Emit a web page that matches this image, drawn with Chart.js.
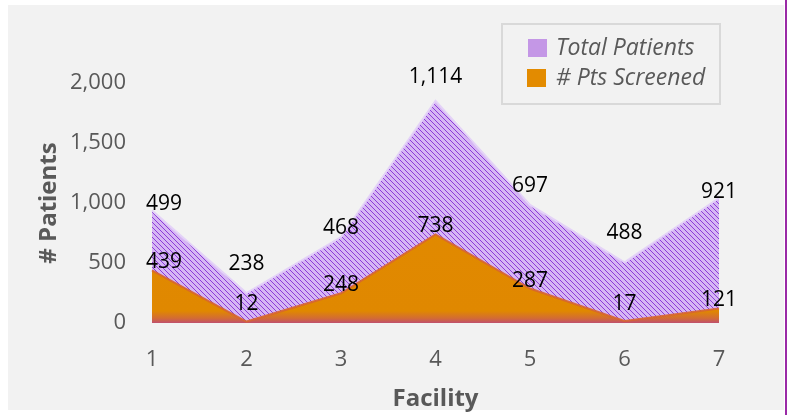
<!DOCTYPE html>
<html><head><meta charset="utf-8">
<script src="https://cdn.jsdelivr.net/npm/chart.js@4.4.0/dist/chart.umd.min.js"></script>
<style>html,body{margin:0;padding:0;background:#fff;overflow:hidden}canvas{display:block}</style>
</head><body>
<canvas id="c" width="787" height="415"></canvas>
<script>
const facilities = ['1', '2', '3', '4', '5', '6', '7'];
const ptsScreened = [439, 12, 248, 738, 287, 17, 121];
const totalPatients = [499, 238, 468, 1114, 697, 488, 921];
const yTickStep = 500;
const yMax = 2000;
const seriesNames = ['Total Patients', '# Pts Screened'];
const totalLabelLift = [6, 29, 9, 24, 19, 29, 6];

const FONT = '"Open Sans", "Noto Sans", sans-serif';
const GREY = '#595959';

const canvas = document.getElementById('c');
const ctx = canvas.getContext('2d');

function makeHatch() {
  const p = document.createElement('canvas');
  p.width = 5; p.height = 5;
  const g = p.getContext('2d');
  g.fillStyle = '#d6b6f4';
  g.fillRect(0, 0, 5, 5);
  g.fillStyle = '#8c3cd8';
  for (let i = 0; i < 5; i++) g.fillRect(i, i, 1, 1);
  return ctx.createPattern(p, 'repeat');
}
const hatch = makeHatch();

function orangeFill(context) {
  const chart = context.chart;
  const a = chart.chartArea;
  if (!a) return '#e28b00';
  const g = chart.ctx.createLinearGradient(0, a.top, 0, a.bottom);
  g.addColorStop(0, '#e38c00');
  g.addColorStop(0.95, '#e08800');
  g.addColorStop(0.98, '#d36c34');
  g.addColorStop(1, '#c0506e');
  return g;
}

const bgPlugin = {
  id: 'bg',
  beforeDraw(chart) {
    const c = chart.ctx;
    c.save();
    c.fillStyle = '#ffffff';
    c.fillRect(0, 0, chart.width, chart.height);
    c.fillStyle = '#f2f2f2';
    c.fillRect(8, 5, 776, 405);
    c.fillStyle = '#9a2aa6';
    c.fillRect(785, 0, 2, chart.height);
    c.restore();
  }
};

const labelPlugin = {
  id: 'vals',
  afterDatasetsDraw(chart) {
    const c = chart.ctx;
    const area = chart.chartArea;
    c.save();
    c.font = '21px ' + FONT;
    c.fillStyle = '#000000';
    c.textAlign = 'center';
    c.textBaseline = 'middle';
    chart.data.datasets.forEach((ds, di) => {
      const meta = chart.getDatasetMeta(di);
      meta.data.forEach((pt, i) => {
        const txt = ds.data[i].toLocaleString('en-US');
        const w = c.measureText(txt).width;
        const x = Math.max(pt.x, area.left - 6 + w / 2);
        let y;
        if (ds.label === seriesNames[1]) y = Math.min(pt.y - 8, area.bottom - 19);
        else y = pt.y - totalLabelLift[i];
        c.fillText(txt, x, y);
      });
    });
    c.restore();
  }
};

const legendPlugin = {
  id: 'customLegend',
  afterDraw(chart) {
    const c = chart.ctx;
    c.save();
    c.strokeStyle = '#d9d9d9';
    c.lineWidth = 2;
    c.strokeRect(502, 24, 218, 80);
    c.fillStyle = '#c497e6';
    c.fillRect(528, 39, 19, 18);
    c.fillStyle = '#e38b00';
    c.fillRect(527, 69, 19, 18);
    c.font = 'italic 23px ' + FONT;
    c.fillStyle = GREY;
    c.textAlign = 'left';
    c.textBaseline = 'middle';
    c.fillText(seriesNames[0], 556, 48);
    c.fillText(seriesNames[1], 556, 78);
    c.restore();
  }
};

new Chart(canvas, {
  type: 'line',
  data: {
    labels: facilities,
    datasets: [
      {
        label: seriesNames[1],
        data: ptsScreened,
        fill: 'origin',
        backgroundColor: orangeFill,
        borderColor: 'rgba(214,100,50,0.9)',
        borderWidth: 2,
        pointRadius: 0,
        tension: 0
      },
      {
        label: seriesNames[0],
        data: totalPatients,
        fill: '-1',
        backgroundColor: hatch,
        borderColor: '#e4d2f8',
        borderWidth: 2,
        pointRadius: 0,
        tension: 0
      }
    ]
  },
  options: {
    responsive: false,
    animation: false,
    layout: { padding: { top: 83, right: 68, left: 0, bottom: 0 } },
    plugins: { legend: { display: false }, tooltip: { enabled: false } },
    scales: {
      x: {
        offset: false,
        grid: { display: false, drawTicks: false },
        border: { display: false },
        ticks: { color: GREY, font: { family: FONT, size: 22 }, padding: 24, maxRotation: 0 },
        title: { display: true, text: 'Facility', color: GREY, font: { family: FONT, size: 24, weight: 'bold' }, padding: { top: 0, bottom: 1 } },
        afterFit(s) { s.height = 92; }
      },
      y: {
        stacked: true,
        min: 0,
        max: yMax,
        grid: { display: false, drawTicks: false },
        border: { display: false },
        ticks: {
          stepSize: yTickStep,
          color: GREY,
          font: { family: FONT, size: 22 },
          padding: 26,
          callback: v => v.toLocaleString('en-US')
        },
        title: { display: true, text: '# Patients', color: GREY, font: { family: FONT, size: 24, weight: 'bold' }, padding: { top: 35, bottom: 0 } },
        afterFit(s) { s.width = 152; }
      }
    }
  },
  plugins: [bgPlugin, labelPlugin, legendPlugin]
});
</script>
</body></html>
